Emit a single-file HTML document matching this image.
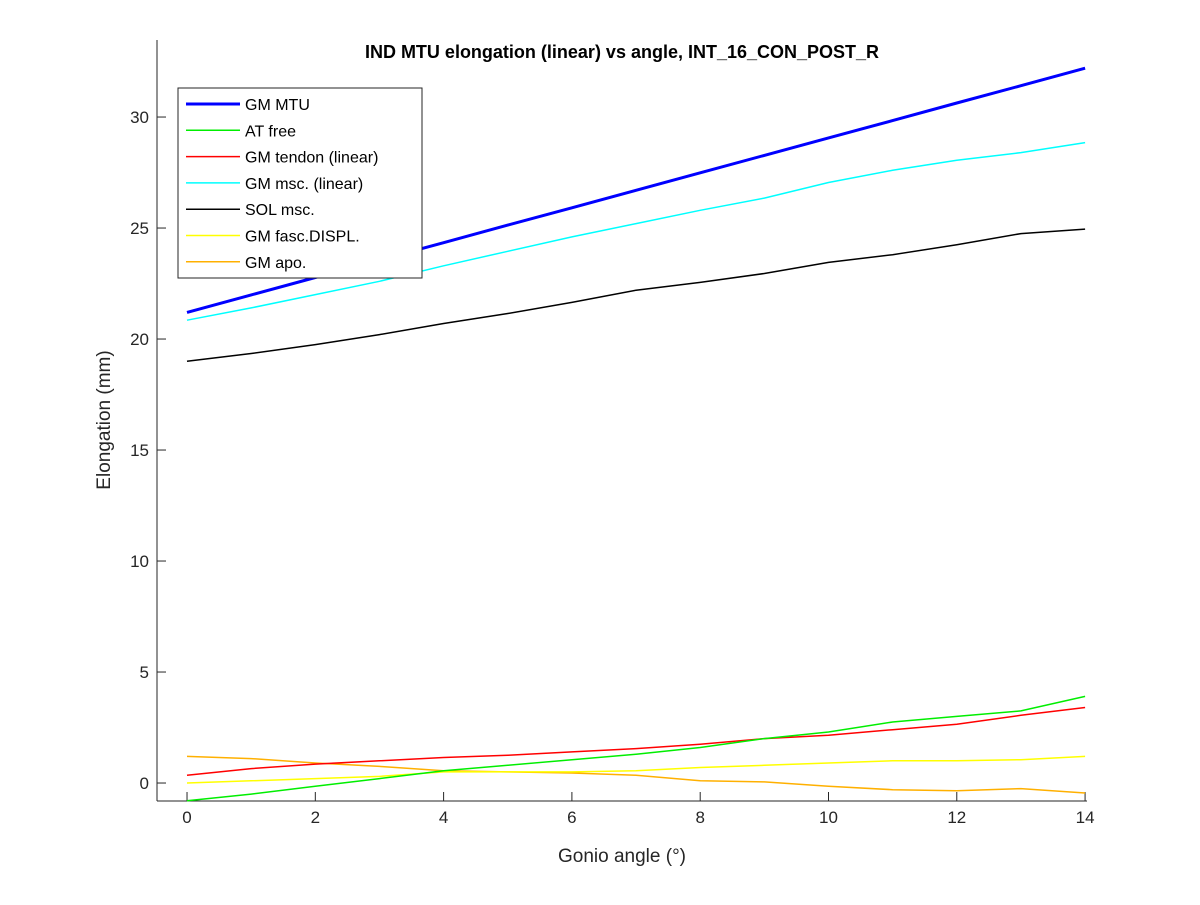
<!DOCTYPE html>
<html><head><meta charset="utf-8"><style>
body{margin:0;background:#fff;font-family:"Liberation Sans",Arial,sans-serif}
svg text{font-family:"Liberation Sans",Arial,sans-serif}
</style></head><body>
<svg id="c" width="1200" height="900">
<rect width="1200" height="900" fill="#fff"/>
</svg>
<script>
const xs=[0,1,2,3,4,5,6,7,8,9,10,11,12,13,14];
const names=["GM MTU","AT free","GM tendon (linear)","GM msc. (linear)","SOL msc.","GM fasc.DISPL.","GM apo."];
const colors=["#0000ff","#00ee00","#ff0000","#00ffff","#000000","#ffff00","#ffb000"];
const gmMtu=[21.2,21.99,22.77,23.56,24.34,25.13,25.91,26.7,27.49,28.27,29.06,29.84,30.63,31.41,32.2];
const atFree=[-0.8,-0.5,-0.15,0.2,0.55,0.8,1.05,1.3,1.6,2.0,2.3,2.75,3.0,3.25,3.9];
const gmTendon=[0.35,0.65,0.85,1.0,1.15,1.25,1.4,1.55,1.75,2.0,2.15,2.4,2.65,3.05,3.4];
const gmMsc=[20.85,21.4,22.0,22.6,23.3,23.95,24.6,25.2,25.8,26.35,27.05,27.6,28.05,28.4,28.85];
const solMsc=[19.0,19.35,19.75,20.2,20.7,21.15,21.65,22.2,22.55,22.95,23.45,23.8,24.25,24.75,24.95];
const fascDispl=[0,0.1,0.2,0.3,0.5,0.5,0.5,0.55,0.7,0.8,0.9,1.0,1.0,1.05,1.2];
const gmApo=[1.2,1.1,0.9,0.75,0.55,0.5,0.45,0.35,0.1,0.05,-0.15,-0.3,-0.35,-0.25,-0.45];
const series=[gmMtu,atFree,gmTendon,gmMsc,solMsc,fascDispl,gmApo];
const xTicks=[0,2,4,6,8,10,12,14];
const yTicks=[0,5,10,15,20,25,30];
const L=157,R=1087,T=40,B=801;
const xMin=-0.468,xMax=14.03,yMin=-0.81,yMax=33.47;
const X=v=>L+(v-xMin)/(xMax-xMin)*(R-L);
const Y=v=>B-(v-yMin)/(yMax-yMin)*(B-T);
const svg=document.getElementById('c');
const NS='http://www.w3.org/2000/svg';
function mk(tag,attrs,parent){const e=document.createElementNS(NS,tag);for(const k in attrs)e.setAttribute(k,attrs[k]);(parent||svg).appendChild(e);return e;}
const xa=mk('line',{x1:L,x2:R,y1:B,y2:B,stroke:'#262626'});


const ya=mk('line',{x1:L,x2:L,y1:T,y2:B,stroke:'#262626'});


xTicks.forEach(t=>{
 const l=mk('line',{x1:X(t),x2:X(t),y1:B,y2:B-9,stroke:'#262626'});
 
 
 const tx=mk('text',{x:X(t),y:B+22,'text-anchor':'middle','font-size':17,fill:'#262626'});tx.textContent=t;
 
 
});
yTicks.forEach(t=>{
 const l=mk('line',{x1:L,x2:L+9,y1:Y(t),y2:Y(t),stroke:'#262626'});
 
 
 const tx=mk('text',{x:L-8,y:Y(t)+6,'text-anchor':'end','font-size':17,fill:'#262626'});tx.textContent=t;
 
 
});
for(let i=series.length-1;i>=0;i--){
 const d=series[i].map((v,j)=>(j?'L':'M')+X(xs[j]).toFixed(1)+','+Y(v).toFixed(1)).join(' ');
 const p=mk('path',{d:d,fill:'none',stroke:colors[i],'stroke-width':i==0?3:1.5});
 
 
}
const tt=mk('text',{x:622,y:58,'text-anchor':'middle','font-size':18,'font-weight':'bold',fill:'#000'});tt.textContent='IND MTU elongation (linear) vs angle, INT_16_CON_POST_R';


const xl=mk('text',{x:622,y:862,'text-anchor':'middle','font-size':19,fill:'#262626'});xl.textContent='Gonio angle (°)';


const yl=mk('text',{x:0,y:0,'text-anchor':'middle','font-size':19,fill:'#262626',transform:'translate(110,420) rotate(-90)'});yl.textContent='Elongation (mm)';


const lg=mk('g',{});


mk('rect',{x:178,y:88,width:244,height:190,fill:'#fff',stroke:'#262626'},lg);
names.forEach((n,i)=>{
 const y=104+i*26.3;
 const l=mk('line',{x1:186,x2:240,y1:y,y2:y,stroke:colors[i],'stroke-width':i==0?3:1.5},lg);
 
 
 const t=mk('text',{x:245,y:y+6,'font-size':16,fill:'#000'},lg);t.textContent=n;
 
 
});
</script>
</body></html>
